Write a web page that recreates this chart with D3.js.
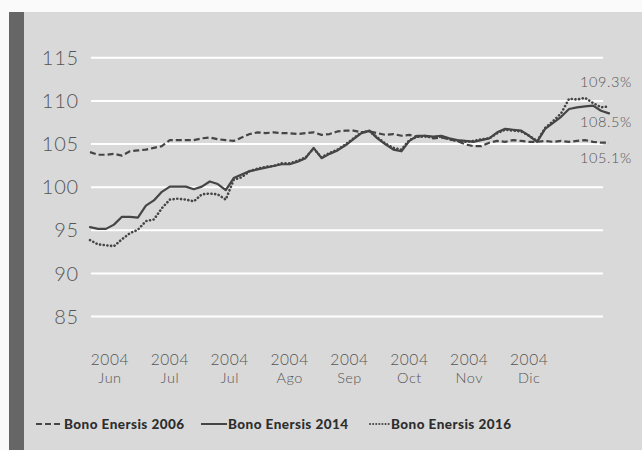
<!DOCTYPE html>
<html>
<head>
<meta charset="utf-8">
<script src="https://cdn.jsdelivr.net/npm/d3@7"></script>
<style>
  html, body { margin: 0; padding: 0; background: #fafafa; }
  svg { display: block; }
</style>
</head>
<body>
<svg id="chart" width="642" height="450"></svg>
<script>
// Bond prices (% of par), sampled at regular trading-day steps, Jun–Dec 2004
const bono2006 = [104.0,103.7,103.7,103.8,103.6,104.1,104.2,104.3,104.5,104.7,
  105.4,105.4,105.4,105.4,105.6,105.7,105.5,105.4,105.3,105.7,
  106.1,106.3,106.2,106.3,106.2,106.2,106.1,106.2,106.3,106.0,
  106.1,106.4,106.5,106.5,106.3,106.4,106.2,106.0,106.1,105.9,
  106.0,105.8,105.9,105.6,105.7,105.5,105.3,104.9,104.7,104.7,
  105.1,105.3,105.2,105.4,105.3,105.2,105.2,105.3,105.2,105.3,
  105.2,105.3,105.4,105.2,105.1,105.1];
const bono2014 = [95.3,95.1,95.1,95.6,96.5,96.5,96.4,97.8,98.4,99.4,
  100.0,100.0,100.0,99.7,100.0,100.6,100.3,99.6,101.0,101.4,
  101.8,102.0,102.2,102.4,102.6,102.6,102.9,103.3,104.5,103.3,
  103.8,104.2,104.8,105.5,106.2,106.5,105.6,104.9,104.3,104.1,
  105.3,105.9,105.9,105.8,105.9,105.6,105.4,105.3,105.2,105.4,
  105.6,106.3,106.7,106.6,106.5,105.9,105.2,106.7,107.4,108.1,
  109.0,109.2,109.3,109.4,108.8,108.5];
const bono2016 = [93.8,93.3,93.2,93.1,93.9,94.6,95.0,96.0,96.2,97.5,
  98.5,98.6,98.5,98.3,99.1,99.2,99.1,98.5,100.8,101.1,
  101.8,102.1,102.3,102.4,102.7,102.7,103.0,103.4,104.4,103.4,
  103.9,104.3,104.9,105.6,106.3,106.4,105.7,105.0,104.5,104.3,
  105.4,105.8,105.8,105.7,105.8,105.5,105.3,105.2,105.3,105.5,
  105.6,106.2,106.6,106.5,106.4,105.9,105.3,106.8,107.6,108.5,
  110.2,110.1,110.3,109.7,109.2,109.3];

const yTicks = [85, 90, 95, 100, 105, 110, 115];
const xTickIndex = [2.5, 10, 17.5, 25, 32.5, 40, 47.5, 55];
const xTickYear = ["2004","2004","2004","2004","2004","2004","2004","2004"];
const xTickMonth = ["Jun","Jul","Jul","Ago","Sep","Oct","Nov","Dic"];
const seriesNames = ["Bono Enersis 2006", "Bono Enersis 2014", "Bono Enersis 2016"];
const endLabels = ["105.1%", "108.5%", "109.3%"];

const svg = d3.select("#chart");
const W = 642, H = 450;

// panel background and left accent bar
svg.append("rect").attr("x", 0).attr("y", 0).attr("width", W).attr("height", H).attr("fill", "#fafafa");
svg.append("rect").attr("x", 24).attr("y", 12).attr("width", W - 24).attr("height", H - 12).attr("fill", "#d9d9d9");
svg.append("rect").attr("x", 9).attr("y", 12).attr("width", 15).attr("height", H - 12).attr("fill", "#666666");

const x = d3.scaleLinear().domain([0, bono2006.length - 1]).range([90, 609]);
const y = d3.scaleLinear().domain([85, 115]).range([316, 57.3]);

const font = "Lato, 'Open Sans', sans-serif";

// y axis with white gridlines
const yAxis = d3.axisLeft(y).tickValues(yTicks).tickSize(-512).tickPadding(12).tickFormat(d3.format("d"));
const gy = svg.append("g").attr("transform", "translate(91,0)").call(yAxis);
gy.select(".domain").remove();
gy.selectAll(".tick line").attr("stroke", "#ffffff").attr("stroke-width", 2);
gy.selectAll(".tick text")
  .attr("fill", "#555").attr("font-family", font).attr("font-weight", 300)
  .attr("font-size", 20).attr("letter-spacing", 0.8).attr("dy", "0.36em");

// x axis: two-line labels (year above month)
const gx = svg.append("g");
gx.selectAll("text.yr").data(xTickIndex).join("text")
  .attr("class", "yr").attr("x", d => x(d)).attr("y", 364.5)
  .attr("text-anchor", "middle").attr("fill", "#555")
  .attr("font-family", font).attr("font-weight", 300).attr("font-size", 15.5)
  .attr("letter-spacing", 0.6)
  .text((d, i) => xTickYear[i]);
gx.selectAll("text.mo").data(xTickIndex).join("text")
  .attr("class", "mo").attr("x", d => x(d)).attr("y", 383)
  .attr("text-anchor", "middle").attr("fill", "#555")
  .attr("font-family", font).attr("font-weight", 300).attr("font-size", 14.5)
  .attr("letter-spacing", 0.5)
  .text((d, i) => xTickMonth[i]);

// series lines
const line = d3.line().x((d, i) => x(i)).y(d => y(d)).curve(d3.curveLinear);
const styles = [
  { data: bono2006, dash: "6,3", cap: "butt", dotted: false },
  { data: bono2014, dash: null, cap: "round", dotted: false },
  { data: bono2016, dash: "0.1,3.6", cap: "round", dotted: true }
];
svg.append("g").selectAll("path").data(styles).join("path")
  .attr("d", s => line(s.data))
  .attr("fill", "none").attr("stroke", "#454545")
  .attr("stroke-width", s => s.dotted ? 2.6 : 2.2)
  .attr("stroke-linejoin", "round")
  .attr("stroke-linecap", s => s.cap)
  .attr("stroke-dasharray", s => s.dash);

// end-of-series value labels
const lastIdx = bono2006.length - 1;
const endInfo = [
  { v: bono2006[lastIdx], off: 20 },
  { v: bono2014[lastIdx], off: 14 },
  { v: bono2016[lastIdx], off: -19 }
];
svg.append("g").selectAll("text").data(endInfo).join("text")
  .attr("x", 632).attr("y", d => y(d.v) + d.off)
  .attr("text-anchor", "end").attr("fill", "#555")
  .attr("font-family", font).attr("font-weight", 300).attr("font-size", 14.5)
  .attr("letter-spacing", 0.6)
  .text((d, i) => endLabels[i]);

// legend
const legendX = [36, 201, 370];
const legendLen = [27, 26, 20];
const lg = svg.append("g").selectAll("g").data(styles).join("g")
  .attr("transform", (d, i) => `translate(${legendX[i]},424)`);
lg.append("line").attr("x1", 0).attr("x2", (d, i) => legendLen[i]).attr("y1", 0).attr("y2", 0)
  .attr("stroke", "#454545").attr("stroke-width", 2)
  .attr("stroke-linecap", s => s.dotted ? "round" : "butt")
  .attr("stroke-dasharray", s => s.dotted ? "0.1,3" : s.dash);
lg.append("text").attr("x", (d, i) => legendLen[i] + 1).attr("y", 4.5)
  .attr("fill", "#2e2e2e").attr("font-family", font).attr("font-weight", 900).attr("font-size", 13.5)
  .attr("letter-spacing", 0.45)
  .text((d, i) => seriesNames[i]);
</script>
</body>
</html>
